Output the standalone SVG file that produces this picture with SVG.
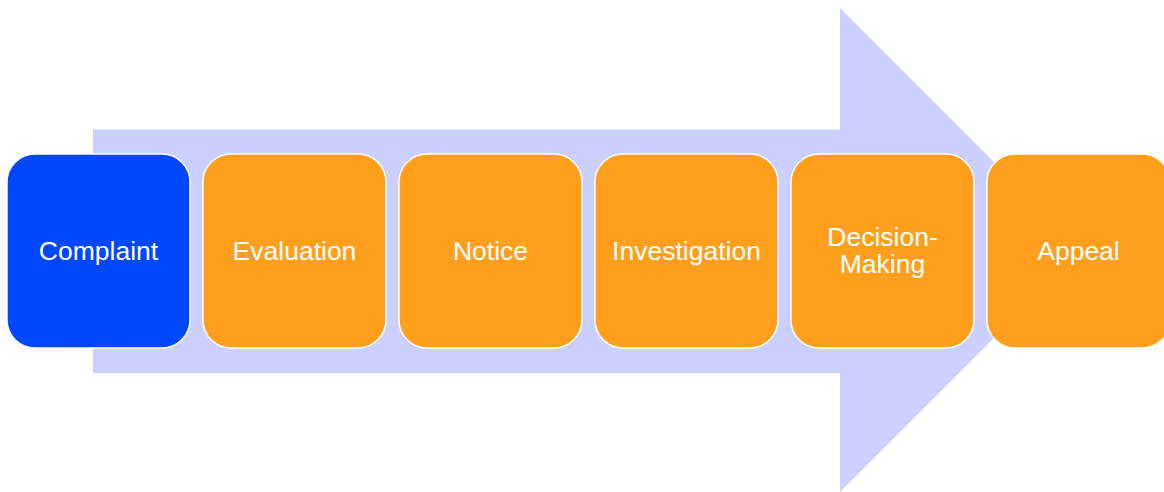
<svg xmlns="http://www.w3.org/2000/svg" width="1164" height="492" viewBox="0 0 1164 492">
<style>
.box{fill:#FF9F1C;stroke:#FFFFFF;stroke-width:1.5}
.first{fill:#0047FF}
.lbl{font-family:"Liberation Sans",Arial,sans-serif;font-size:26.5px;fill:#FFFFFF;text-anchor:middle}
</style>
<rect width="1164" height="492" fill="#FFFFFF"/>
<g id="arrow">
<polygon points="93,129.5 840,129.5 840,8 1082,250 840,492 840,373 93,373" fill="#CCD0FF"/>
</g>
<g id="connectors"></g>
<g id="n1"><rect class="box first" x="7" y="154" width="183" height="194" rx="28"/><text class="lbl" x="98.5" y="259.5">Complaint</text></g>
<g id="n2"><rect class="box" x="203" y="154" width="183" height="194" rx="28"/><text class="lbl" x="294.5" y="259.5">Evaluation</text></g>
<g id="n3"><rect class="box" x="399" y="154" width="183" height="194" rx="28"/><text class="lbl" x="490.5" y="259.5">Notice</text></g>
<g id="n4"><rect class="box" x="595" y="154" width="183" height="194" rx="28"/><text class="lbl" x="686.5" y="259.5">Investigation</text></g>
<g id="n5"><rect class="box" x="791" y="154" width="183" height="194" rx="28"/><text class="lbl" x="882.5" y="246">Decision-</text><text class="lbl" x="882.5" y="273">Making</text></g>
<g id="n6"><rect class="box" x="987" y="154" width="183" height="194" rx="28"/><text class="lbl" x="1078.5" y="259.5">Appeal</text></g>
</svg>
